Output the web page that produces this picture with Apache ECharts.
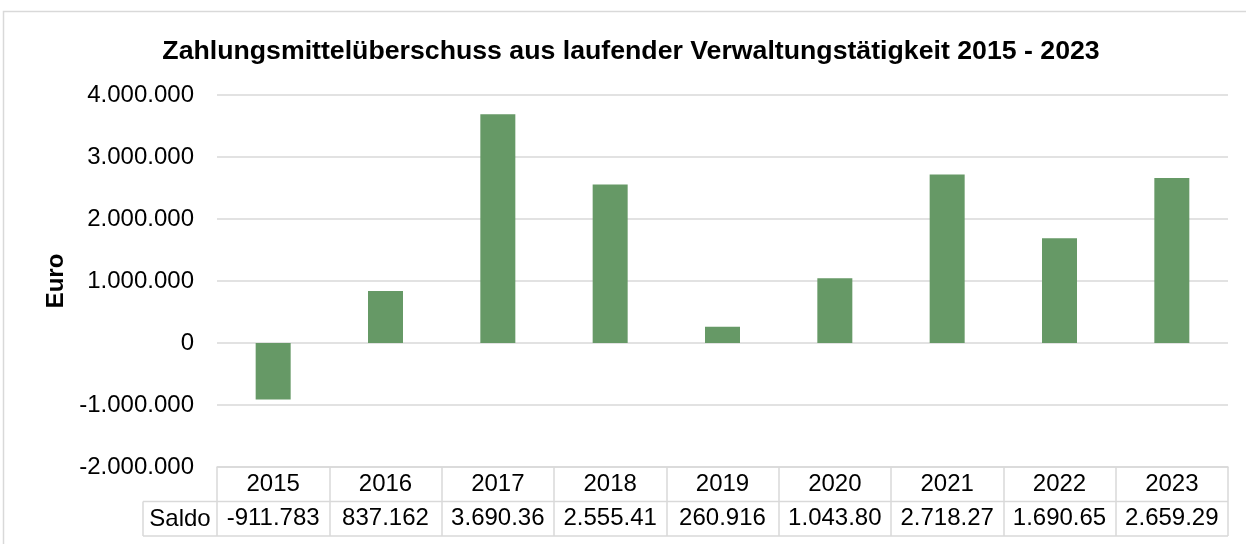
<!DOCTYPE html>
<html>
<head>
<meta charset="utf-8">
<script src="https://cdn.jsdelivr.net/npm/echarts@6/dist/echarts.min.js"></script>
<style>
  html, body { margin: 0; padding: 0; background: #fff; }
  #chart { width: 1246px; height: 544px; }
</style>
</head>
<body>
<div id="chart"></div>
<script>
'use strict';

// Daten
var years = ['2015', '2016', '2017', '2018', '2019', '2020', '2021', '2022', '2023'];
var saldo = [-911783, 837162, 3690360, 2555410, 260916, 1043800, 2718270, 1690650, 2659290];
var yTicks = { min: -2000000, max: 4000000, step: 1000000 };

var FONT = '"Liberation Sans", Arial, sans-serif';
var gridCol = '#d9d9d9';

// Tausenderpunkte wie in Excel
function fmt(v) {
    var s = String(Math.abs(Math.round(v))).replace(/\B(?=(\d{3})+(?!\d))/g, '.');
    return (v < 0 ? '-' : '') + s;
}

// Tabellenzelle schneidet nach 8 Zeichen ab
var saldoText = saldo.map(function (v) { return fmt(v).slice(0, 8); });

var chart = echarts.init(document.getElementById('chart'));

var option = {
    backgroundColor: '#fff',
    animation: false,
    title: {
        text: 'Zahlungsmittelüberschuss aus laufender Verwaltungstätigkeit 2015 - 2023',
        left: 626,
        textAlign: 'center',
        top: 33,
        textStyle: { fontFamily: FONT, fontSize: 26.7, fontWeight: 'bold', color: '#000' }
    },
    grid: { left: 217, right: 18, top: 95, bottom: 77 },
    xAxis: [
        {
            type: 'category',
            data: years,
            position: 'bottom',
            axisLine: { onZero: false, lineStyle: { color: gridCol, width: 1.5 } },
            axisTick: { show: true, interval: 0, length: 69, lineStyle: { color: gridCol, width: 1.5 } },
            axisLabel: { interval: 0, margin: 0, lineHeight: 34, fontFamily: FONT, fontSize: 24, color: '#000' }
        },
        {
            type: 'category',
            data: saldoText,
            position: 'bottom',
            offset: 34,
            axisLine: { show: false },
            axisTick: { show: false },
            axisLabel: { interval: 0, margin: 0, lineHeight: 34, fontFamily: FONT, fontSize: 24, color: '#000' }
        }
    ],
    yAxis: {
        type: 'value',
        min: yTicks.min,
        max: yTicks.max,
        interval: yTicks.step,
        name: 'Euro',
        nameLocation: 'middle',
        nameGap: 145,
        nameTextStyle: { fontFamily: FONT, fontSize: 24, fontWeight: 'bold', color: '#000' },
        axisLine: { show: false },
        axisTick: { show: false },
        splitLine: { lineStyle: { color: gridCol, width: 1.5 } },
        axisLabel: { margin: 23, fontFamily: FONT, fontSize: 24, color: '#000', formatter: fmt }
    },
    series: [
        {
            name: 'Saldo',
            type: 'bar',
            xAxisIndex: 0,
            data: saldo,
            barWidth: 35,
            itemStyle: { color: '#669966' }
        }
    ],
    graphic: [
        // Rahmen des Diagramms
        { type: 'rect', shape: { x: 3.5, y: 11.5, width: 1260, height: 560 },
          style: { fill: 'none', stroke: gridCol, lineWidth: 1.5 }, silent: true },
        // Datentabelle: Linien und Beschriftung
        { type: 'line', shape: { x1: 143, y1: 501.5, x2: 1228, y2: 501.5 },
          style: { stroke: gridCol, lineWidth: 1.5 }, silent: true },
        { type: 'line', shape: { x1: 143, y1: 536, x2: 1228, y2: 536 },
          style: { stroke: gridCol, lineWidth: 1.5 }, silent: true },
        { type: 'line', shape: { x1: 143, y1: 501.5, x2: 143, y2: 536 },
          style: { stroke: gridCol, lineWidth: 1.5 }, silent: true },
        { type: 'text', x: 180, y: 519,
          style: { text: 'Saldo', fontFamily: FONT, fontSize: 24, fill: '#000', align: 'center', verticalAlign: 'middle' } }
    ]
};

chart.setOption(option);
</script>
</body>
</html>
